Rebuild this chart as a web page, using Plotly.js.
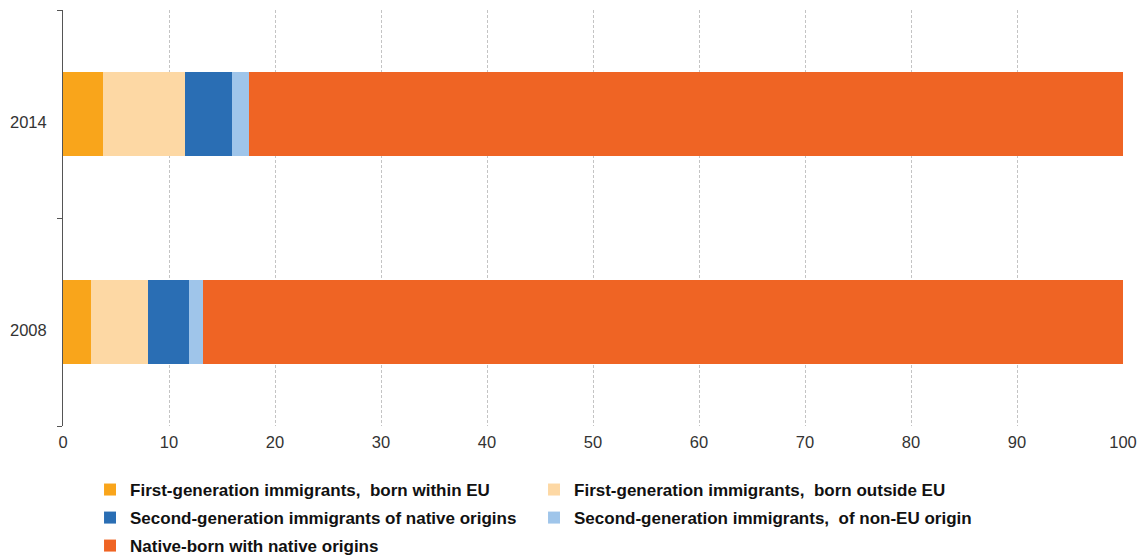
<!DOCTYPE html>
<html>
<head>
<meta charset="utf-8">
<script src="https://cdn.plot.ly/plotly-3.0.1.min.js"></script>
<style>html,body{margin:0;padding:0;background:#fff}#chart{width:1148px;height:556px}</style>
</head>
<body>
<div id="chart"></div>
<script>
var years = ['2008', '2014'];
var seriesNames = [
  'First-generation immigrants,  born within EU',
  'First-generation immigrants,  born outside EU',
  'Second-generation immigrants of native origins',
  'Second-generation immigrants,  of non-EU origin',
  'Native-born with native origins'
];
var firstGenEU = [2.6, 3.8];
var firstGenNonEU = [5.4, 7.7];
var secondGenNative = [3.9, 4.4];
var secondGenNonEU = [1.3, 1.6];
var nativeBorn = [86.8, 82.5];
var colors = ['#F9A51B', '#FDD8A4', '#2A6EB4', '#9FC5EA', '#EF6424'];
var legendRows = ['legend', 'legend', 'legend2', 'legend2', 'legend3'];

var values = [firstGenEU, firstGenNonEU, secondGenNative, secondGenNonEU, nativeBorn];
var data = values.map(function (v, i) {
  return {
    type: 'bar',
    orientation: 'h',
    y: years,
    x: v,
    name: seriesNames[i],
    legend: legendRows[i],
    marker: {color: colors[i], line: {width: 0}},
    hoverinfo: 'x+name'
  };
});

function legendAt(yPaper) {
  return {
    orientation: 'h',
    xref: 'paper',
    yref: 'paper',
    x: 0.0255,
    xanchor: 'left',
    y: yPaper,
    yanchor: 'middle',
    entrywidth: 399,
    entrywidthmode: 'pixels',
    traceorder: 'normal',
    itemwidth: 30,
    bgcolor: 'rgba(0,0,0,0)',
    font: {family: 'Liberation Sans, Arial, sans-serif', size: 17, color: '#111', weight: 'bold'}
  };
}

var annotations = years.map(function (yr, i) {
  return {
    xref: 'paper', yref: 'y',
    x: 0, y: i,
    xanchor: 'right', yanchor: 'middle',
    xshift: -14, yshift: -8,
    text: yr,
    showarrow: false,
    font: {family: 'Liberation Sans, Arial, sans-serif', size: 16.5, color: '#333'}
  };
});

var layout = {
  width: 1148,
  height: 556,
  margin: {l: 63, r: 25, t: 10, b: 130, autoexpand: false},
  barmode: 'stack',
  bargap: 0.6,
  paper_bgcolor: '#fff',
  plot_bgcolor: '#fff',
  font: {family: 'Liberation Sans, Arial, sans-serif', size: 16, color: '#333'},
  xaxis: {
    range: [0, 100],
    dtick: 10,
    tick0: 0,
    showgrid: true,
    gridcolor: '#c4c4c4',
    griddash: '3px,2px',
    gridwidth: 1,
    zeroline: false,
    showline: false,
    ticks: '',
    ticklabelstandoff: 4,
    tickfont: {size: 16.5, color: '#333'}
  },
  yaxis: {
    type: 'category',
    categoryorder: 'array',
    categoryarray: years,
    range: [-0.5, 1.5],
    autorange: false,
    showline: true,
    linecolor: '#555',
    linewidth: 1,
    ticks: 'outside',
    tickson: 'boundaries',
    ticklen: 5,
    tickcolor: '#555',
    showgrid: false,
    zeroline: false,
    showticklabels: false
  },
  annotations: annotations,
  showlegend: true,
  legend: legendAt(-0.1538),
  legend2: legendAt(-0.2212),
  legend3: legendAt(-0.2885)
};

Plotly.newPlot('chart', data, layout, {displayModeBar: false, staticPlot: true});
</script>
</body>
</html>
